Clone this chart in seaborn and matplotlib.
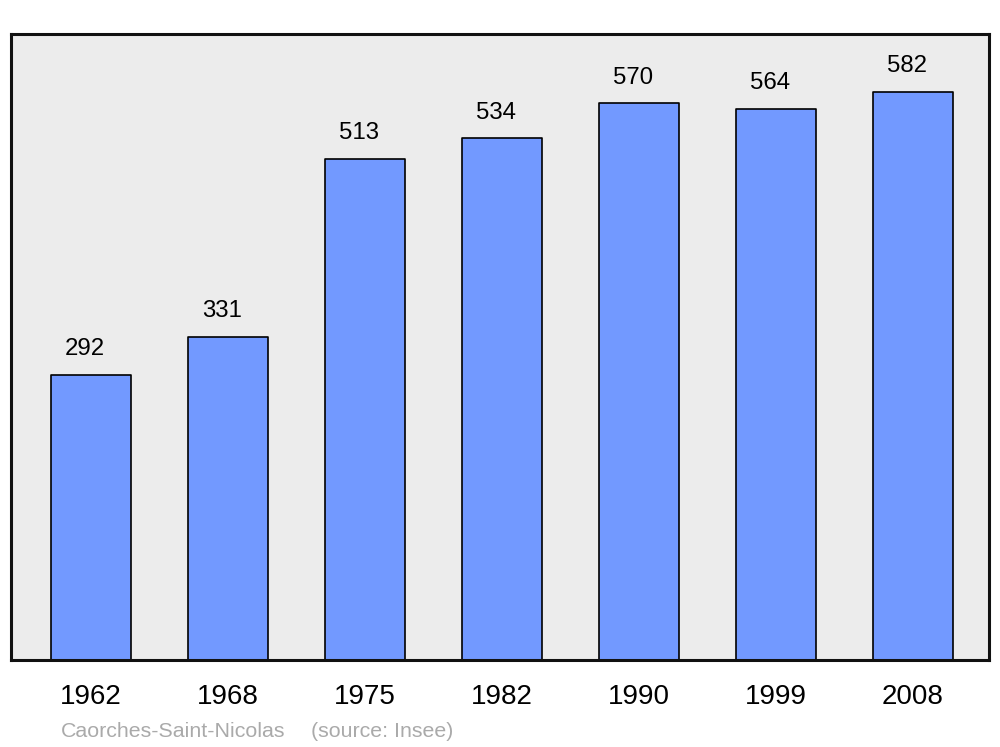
import pandas as pd
import matplotlib.pyplot as plt
import seaborn as sns

# Data
years = ["1962", "1968", "1975", "1982", "1990", "1999", "2008"]
population = [292, 331, 513, 534, 570, 564, 582]

df = pd.DataFrame({"year": years, "population": population})

sns.set_style("white")
plt.rcParams["font.family"] = ["Liberation Sans", "DejaVu Sans"]
plt.rcParams["text.color"] = "black"
plt.rcParams["xtick.color"] = "black"

fig = plt.figure(figsize=(10, 7.47), dpi=100)
ax = fig.add_axes([0.011, 0.1165, 0.978, 0.838])
ax.set_facecolor("#ececec")

sns.barplot(
    data=df,
    x="year",
    y="population",
    color="#7299ff",
    saturation=1,
    width=0.578,
    edgecolor="black",
    linewidth=1.2,
    ax=ax,
)

for patch in ax.patches:
    patch.set_joinstyle("round")

for i, v in enumerate(population):
    ax.annotate(
        str(v),
        xy=(i, v),
        xytext=(-4.3, 18.5),
        textcoords="offset points",
        ha="center",
        va="center",
        fontsize=17.3,
        color="black",
    )

ax.set_xlim(-0.584, 6.555)
ax.set_ylim(0, 641)
ax.set_xlabel("")
ax.set_ylabel("")
ax.set_yticks([])
ax.tick_params(axis="x", length=0, labelsize=20, pad=17.5, labelcolor="black")

for side in ax.spines.values():
    side.set_visible(True)
    side.set_linewidth(2.2)
    side.set_color("#111111")
    side.set_joinstyle("round")

fig.text(0.061, 0.021, "Caorches-Saint-Nicolas", color="#aaaaaa",
         fontsize=15.4, ha="left", va="center")
fig.text(0.311, 0.021, "(source: Insee)", color="#aaaaaa",
         fontsize=15.4, ha="left", va="center")

plt.savefig("out.png", dpi=100)
